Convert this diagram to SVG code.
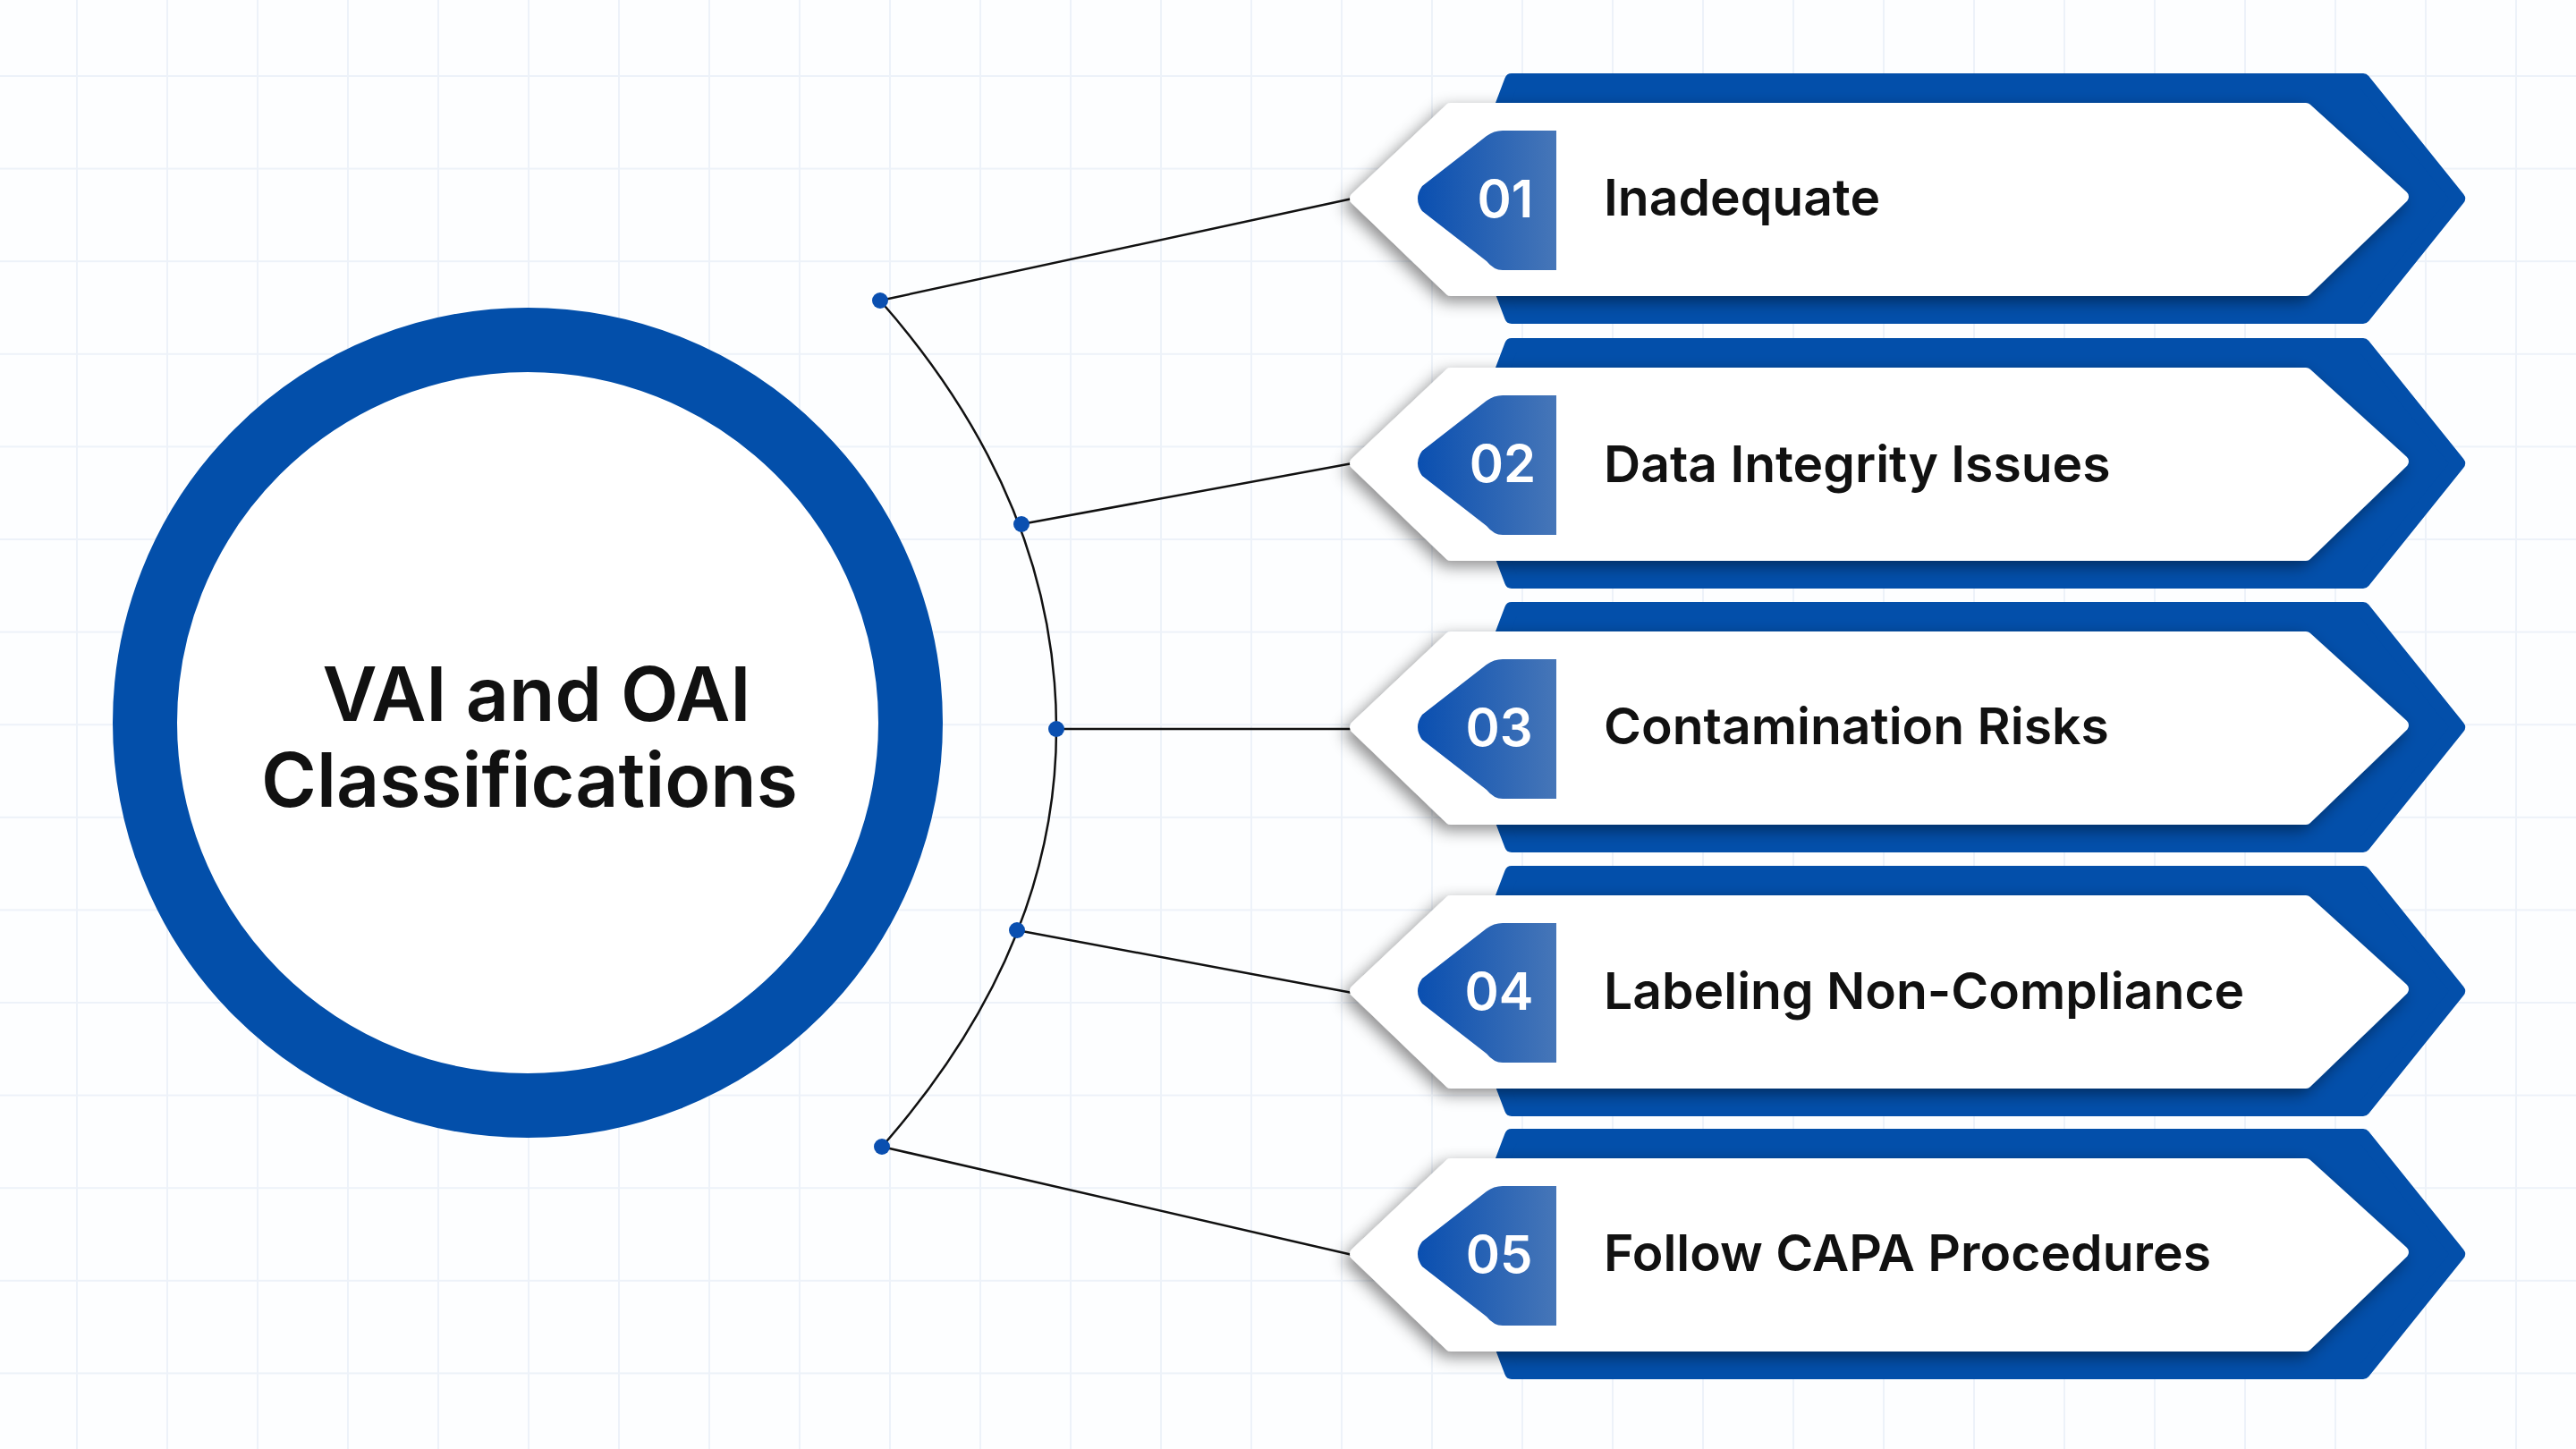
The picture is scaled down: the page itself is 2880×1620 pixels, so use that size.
<svg xmlns="http://www.w3.org/2000/svg" width="2880" height="1620" viewBox="0 0 2880 1620">
<defs>
<pattern id="grid" x="85" y="84" width="101" height="103.6" patternUnits="userSpaceOnUse">
<path d="M0,0 V103.6 M0,0 H101" stroke="#edf2f9" stroke-width="4" fill="none"/>
</pattern>
<linearGradient id="tab" x1="0" x2="1" y1="0" y2="0">
<stop offset="0" stop-color="#0a4fb0"/><stop offset="1" stop-color="#4676b8"/>
</linearGradient>
<filter id="sh" x="-10%" y="-30%" width="120%" height="160%">
<feDropShadow dx="-6" dy="6" stdDeviation="9" flood-color="#000" flood-opacity="0.45"/>
</filter>
<g id="item">
<polygon points="1690,-132 2642,-132 2748,0 2642,132 1690,132 1640,0" fill="#034faa" stroke="#034faa" stroke-width="16" stroke-linejoin="round"/>
<polygon points="1622,-100 2578,-100 2686,-2 2578,102 1622,102 1516,0" fill="#fff" stroke="#fff" stroke-width="14" stroke-linejoin="round" filter="url(#sh)"/>
<path d="M1740,-76 H1680 Q1670,-76 1662,-70 L1590,-14 Q1580,0 1590,14 L1662,70 Q1670,80 1680,80 H1740 Z" fill="url(#tab)"/>
</g>
</defs>
<style>
.num{font-family:Inter,"Noto Sans",sans-serif;font-weight:600;font-size:58px;fill:#fff;text-anchor:middle}
.lab{font-family:Inter,"Noto Sans",sans-serif;font-weight:600;font-size:57px;fill:#111}
.ttl{font-family:Inter,"Noto Sans",sans-serif;font-weight:600;font-size:84px;fill:#111;text-anchor:middle}
</style>
<rect width="2880" height="1620" fill="#fdfeff"/>
<rect width="2880" height="1620" fill="url(#grid)"/>
<g id="connectors" stroke="#111" stroke-width="2.5" fill="none">
<path d="M984,336 Q1181,560 1181,815 Q1181,1060 986,1282"/>
<line x1="984" y1="336" x2="1512" y2="222"/>
<line x1="1142" y1="586" x2="1512" y2="518"/>
<line x1="1181" y1="815" x2="1512" y2="815"/>
<line x1="1137" y1="1040" x2="1512" y2="1110"/>
<line x1="986" y1="1282" x2="1512" y2="1403"/>
<g fill="#0a4fb0" stroke="none">
<circle cx="984" cy="336" r="9"/><circle cx="1142" cy="586" r="9"/><circle cx="1181" cy="815" r="9"/><circle cx="1137" cy="1040" r="9"/><circle cx="986" cy="1282" r="9"/>
</g>
</g>
<g id="center">
<circle cx="590" cy="808" r="428" fill="#fff" stroke="#034faa" stroke-width="72"/>
<text class="ttl" x="600" y="806">VAI and OAI</text>
<text class="ttl" x="592" y="902">Classifications</text>
</g>
<g id="n1" transform="translate(0,222)"><use href="#item"/><text class="num" x="1683" y="21">01</text><text class="lab" x="1793" y="19">Inadequate</text></g>
<g id="n2" transform="translate(0,518)"><use href="#item"/><text class="num" x="1680" y="21">02</text><text class="lab" x="1793" y="21">Data Integrity Issues</text></g>
<g id="n3" transform="translate(0,813)"><use href="#item"/><text class="num" x="1676" y="21">03</text><text class="lab" x="1793" y="19">Contamination Risks</text></g>
<g id="n4" transform="translate(0,1108)"><use href="#item"/><text class="num" x="1676" y="21">04</text><text class="lab" x="1793" y="20">Labeling Non-Compliance</text></g>
<g id="n5" transform="translate(0,1402)"><use href="#item"/><text class="num" x="1676" y="21">05</text><text class="lab" x="1793" y="19">Follow CAPA Procedures</text></g>
</svg>
